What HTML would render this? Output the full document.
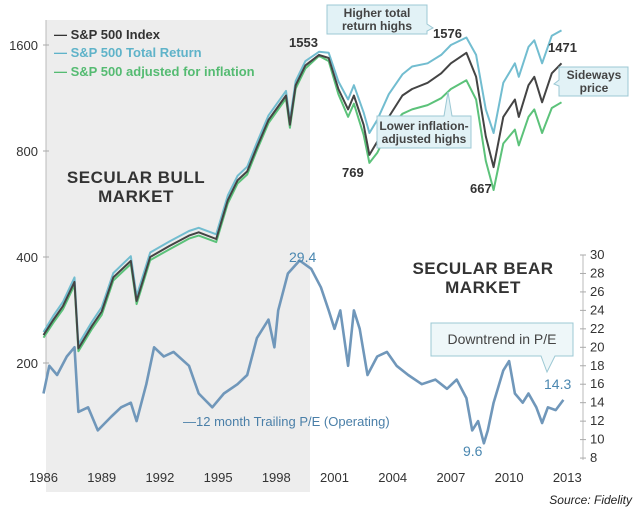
<!DOCTYPE html>
<html><head><meta charset="utf-8"><style>
body{margin:0;background:#fff;}
svg{display:block;font-family:"Liberation Sans",sans-serif;}
</style></head><body>
<svg width="640" height="514" viewBox="0 0 640 514">
<rect x="0" y="0" width="640" height="514" fill="#fff"/>
<rect x="46" y="20" width="264" height="472" fill="#ededed"/>
<line x1="46" y1="20" x2="46" y2="380" stroke="#bbb"/>
<line x1="583" y1="255" x2="583" y2="460" stroke="#bbb"/>
<g id="axes"></g>
<g id="series"></g>
<g font-weight="bold" font-size="13">
<text x="54" y="39" fill="#333">— S&amp;P 500 Index</text>
<text x="54" y="57" fill="#5fb3c9">— S&amp;P 500 Total Return</text>
<text x="54" y="76" fill="#55bb72">— S&amp;P 500 adjusted for inflation</text>
</g>
<g font-size="13" font-weight="bold" fill="#333">
<text x="289" y="47">1553</text>
<text x="433" y="38">1576</text>
<text x="548" y="52">1471</text>
<text x="342" y="177">769</text>
<text x="470" y="193">667</text>
</g>
<g font-size="17" fill="#333" text-anchor="middle" font-weight="bold" letter-spacing="0.5">
<text x="136" y="183">SECULAR BULL</text>
<text x="136" y="202">MARKET</text>
<text x="483" y="274">SECULAR BEAR</text>
<text x="483" y="293">MARKET</text>
</g>
<g>
<path d="M327,5 H427 V24 L433,28 L427,31 V34 H327 Z" fill="#e2f2f6" stroke="#9cc8d4"/>
<text x="377" y="17" font-size="12" font-weight="bold" fill="#444" text-anchor="middle">Higher total</text>
<text x="377" y="30" font-size="12" font-weight="bold" fill="#444" text-anchor="middle">return highs</text>
</g>
<g>
<path d="M559,67 H628 V96 H559 V86 L554,84 L559,80 Z" fill="#e2f2f6" stroke="#9cc8d4"/>
<text x="594" y="79" font-size="12" font-weight="bold" fill="#444" text-anchor="middle">Sideways</text>
<text x="594" y="92" font-size="12" font-weight="bold" fill="#444" text-anchor="middle">price</text>
</g>
<g>
<path d="M377,116 H444 L448,92 L452,116 H471 V148 H377 Z" fill="#e2f2f6" stroke="#9cc8d4"/>
<text x="424" y="130" font-size="12" font-weight="bold" fill="#444" text-anchor="middle">Lower inflation-</text>
<text x="424" y="143" font-size="12" font-weight="bold" fill="#444" text-anchor="middle">adjusted highs</text>
</g>
<g>
<path d="M431,323 H573 V356 H555 L547,372 L541,356 H431 Z" fill="#eef7f9" stroke="#9cc8d4"/>
<text x="502" y="344" font-size="14" fill="#444" text-anchor="middle">Downtrend in P/E</text>
</g>
<g font-size="14" fill="#4a87b0">
<text x="289" y="262">29.4</text>
<text x="544" y="389">14.3</text>
<text x="463" y="456">9.6</text>
</g>
<text x="183" y="426" font-size="13" fill="#4a7fa8">—12 month Trailing P/E (Operating)</text>
<text x="632" y="504" font-size="12" font-style="italic" fill="#222" text-anchor="end">Source: Fidelity</text>
</svg>
<script>
const years = [1986.0,1986.5,1987.0,1987.6,1987.8,1988.5,1989.0,1989.6,1990.5,1990.8,1991.5,1992.5,1993.5,1994.0,1994.9,1995.5,1996.0,1996.5,1997.0,1997.6,1998.5,1998.7,1999.0,1999.5,2000.2,2000.7,2001.2,2001.7,2002.0,2002.5,2002.8,2003.2,2003.8,2004.5,2005.0,2005.8,2006.5,2007.0,2007.8,2008.3,2008.8,2009.2,2009.7,2010.3,2010.5,2011.0,2011.3,2011.7,2012.2,2012.7];
const indexVals = [240,265,290,340,220,255,280,350,390,300,400,430,460,470,450,580,660,700,820,980,1150,950,1230,1400,1500,1470,1200,1050,1150,950,780,850,1000,1150,1200,1250,1330,1420,1520,1300,880,720,1000,1120,1000,1230,1300,1100,1330,1420];
const totalReturnVals = [245,272,298,350,226,262,288,360,402,310,412,443,474,484,464,598,680,722,845,1010,1185,980,1265,1440,1530,1520,1260,1120,1230,1030,900,980,1160,1320,1390,1420,1500,1600,1680,1500,1050,900,1250,1420,1300,1580,1650,1420,1700,1760];
const inflationVals = [236,260,284,333,216,250,274,343,382,294,392,421,451,460,441,568,647,686,804,960,1127,931,1205,1372,1490,1440,1160,1000,1090,890,740,790,920,1020,1050,1080,1130,1200,1270,1120,750,620,840,920,830,1000,1050,900,1060,1100];
const peYears = [1986.0,1986.3,1986.7,1987.2,1987.6,1987.8,1988.3,1988.8,1989.5,1990.0,1990.5,1990.8,1991.3,1991.7,1992.2,1992.7,1993.5,1994.0,1994.7,1995.3,1996.0,1996.5,1997.0,1997.6,1997.9,1998.1,1998.6,1999.2,1999.8,2000.3,2000.7,2001.0,2001.3,2001.7,2002.0,2002.3,2002.7,2003.2,2003.7,2004.2,2004.8,2005.5,2006.2,2006.8,2007.3,2007.8,2008.1,2008.4,2008.7,2008.9,2009.2,2009.7,2010.0,2010.3,2010.7,2011.0,2011.4,2011.7,2012.0,2012.4,2012.8];
const peVals = [15,18,17,19,20,13,13.5,11,12.5,13.5,14,12,16,20,19,19.5,18,15,13.5,15,16,17,21,23,20,24,28,29.4,28.5,26.5,24,22,24,18,24,22,17,19,19.5,18,17,16,16.5,15.5,16.5,14.5,11,12,9.6,11,14,17.5,18.5,15,14,15,13.5,11.8,13.5,13.2,14.3];
const leftTicks = [1600,800,400,200];
const rightTicks = [30,28,26,24,22,20,18,16,14,12,10,8];
const yearTicks = [1986,1989,1992,1995,1998,2001,2004,2007,2010,2013];

const NS='http://www.w3.org/2000/svg';
const xS = yr => 43.5 + 19.4*(yr-1986);
const yL = v => 45 + 106*Math.log2(1600/v);
const yR = p => 255 + (30-p)*9.23;
function mk(tag, attrs, parent){const e=document.createElementNS(NS,tag);for(const k in attrs)e.setAttribute(k,attrs[k]);parent.appendChild(e);return e;}
const axes=document.getElementById('axes'), ser=document.getElementById('series');
leftTicks.forEach(v=>{
  const t=mk('text',{x:38,y:yL(v)+5,'font-size':13,fill:'#333','text-anchor':'end'},axes);
  t.textContent=v;
  
  
  const l=mk('line',{x1:43,x2:49,y1:yL(v),y2:yL(v),stroke:'#aaa'},axes);
  
  
});
rightTicks.forEach(v=>{
  const t=mk('text',{x:590,y:yR(v)+4,'font-size':13,fill:'#333'},axes);
  t.textContent=v;
  
  
  const l=mk('line',{x1:580,x2:586,y1:yR(v),y2:yR(v),stroke:'#aaa'},axes);
  
  
});
yearTicks.forEach(y=>{
  const t=mk('text',{x:xS(y),y:482,'font-size':13,fill:'#333','text-anchor':'middle'},axes);
  t.textContent=y;
  
  
});
function line(xs, vs, yf, color, w, name){
  const d=xs.map((x,i)=>(i?'L':'M')+xS(x).toFixed(1)+','+yf(vs[i]).toFixed(1)).join(' ');
  const p=mk('path',{d:d,fill:'none',stroke:color,'stroke-width':w,'stroke-linejoin':'round'},ser);
  
  
}
line(peYears, peVals, yR, '#7097ba', 2.6, 'pe-line');
line(years, inflationVals, yL, '#5cc27a', 2, 'inflation-adjusted-line');
line(years, totalReturnVals, yL, '#72bdd0', 2, 'total-return-line');
line(years, indexVals, yL, '#444', 2, 'sp500-index-line');
</script>
</body></html>
